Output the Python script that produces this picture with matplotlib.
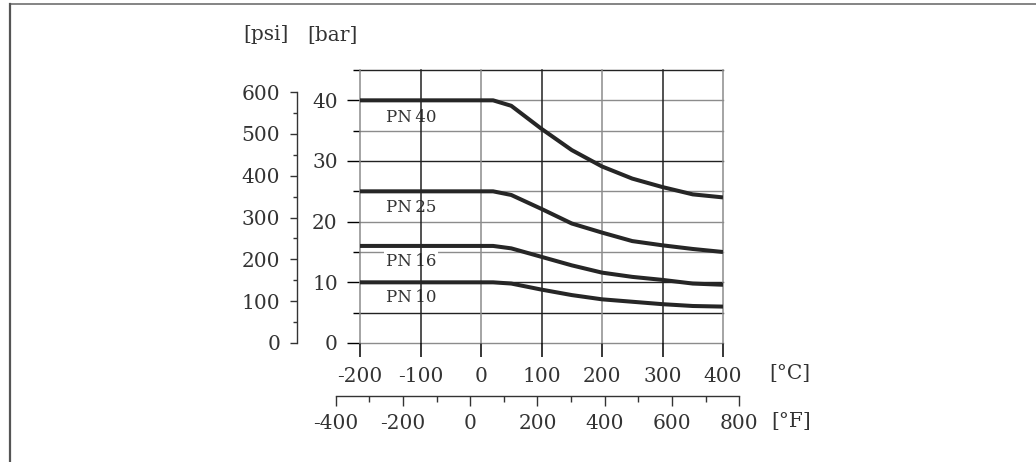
import matplotlib
matplotlib.use("Agg")
import matplotlib.pyplot as plt
from matplotlib.lines import Line2D
from matplotlib.ticker import FixedLocator

# pressure/temperature ratings
temp_c = [-200, 20, 50, 100, 150, 200, 250, 300, 350, 400]
pn40 = [40, 40, 39.1, 35.3, 31.8, 29.1, 27.1, 25.7, 24.5, 24.0]
pn25 = [25, 25, 24.4, 22.1, 19.7, 18.2, 16.8, 16.1, 15.5, 15.0]
pn16 = [16, 16, 15.6, 14.2, 12.8, 11.6, 10.9, 10.4, 9.8, 9.6]
pn10 = [10, 10, 9.8, 8.8, 7.9, 7.2, 6.8, 6.4, 6.1, 6.0]
curves = [pn40, pn25, pn16, pn10]
labels = ["PN\u200940", "PN\u200925", "PN\u200916", "PN\u200910"]
label_y = [37.25, 22.3, 13.4, 7.5]   # bar, label centres
label_x = -116

c_ticks = [-200, -100, 0, 100, 200, 300, 400]
bar_major = [0, 10, 20, 30, 40]
bar_grid = [0, 5, 10, 15, 20, 25, 30, 35, 40, 45]
psi_major = [0, 100, 200, 300, 400, 500, 600]
psi_minor = [50, 150, 250, 350, 450, 550]
f_major = [-400, -200, 0, 200, 400, 600, 800]
f_minor = [-300, -100, 100, 300, 500, 700]

PSI_PER_BAR = 14.5038
DARK = "#222222"
GRAY = "#8c8c8c"
TXT = "#333333"
FONT = "DejaVu Serif"
FS = 14.5

plt.rcParams["font.family"] = FONT
plt.rcParams["axes.unicode_minus"] = False

W, H = 1036, 462
fig = plt.figure(figsize=(W / 100, H / 100), dpi=100)

# main axes (bar / degC), pixel box 360..723 x 70..343
x0, x1, y0, y1 = 360, 723, 70, 343
ax = fig.add_axes([x0 / W, (H - y1) / H, (x1 - x0) / W, (y1 - y0) / H])
ax.set_xlim(-200, 400)
ax.set_ylim(0, 45)
for s in ax.spines.values():
    s.set_visible(False)

hcol = {45: DARK, 40: GRAY, 35: GRAY, 30: DARK, 25: GRAY, 20: GRAY,
        15: GRAY, 10: DARK, 5: DARK, 0: GRAY}
vcol = {-200: GRAY, -100: DARK, 0: GRAY, 100: DARK, 200: GRAY, 300: DARK, 400: GRAY}

for v in bar_grid:
    ax.axhline(v, color=hcol[v], lw=1.0, zorder=1, clip_on=False)
for v in c_ticks:
    ax.axvline(v, color=vcol[v], lw=1.1, zorder=3, clip_on=False)

for lab, ly in zip(labels, label_y):
    ax.text(label_x, ly, lab, ha="center", va="center", fontsize=12, color=TXT,
            zorder=2, bbox=dict(boxstyle="square,pad=0.12", fc="white", ec="none"))

for p in curves:
    ax.plot(temp_c, p, color="#262626", lw=2.9, zorder=4, solid_capstyle="butt")

ax.yaxis.set_major_locator(FixedLocator(bar_major))
ax.yaxis.set_minor_locator(FixedLocator([v for v in bar_grid if v not in bar_major]))
ax.tick_params(axis="y", which="major", length=9.5, width=1.0, pad=6.5,
               labelsize=FS, labelcolor=TXT)
ax.tick_params(axis="y", which="minor", length=5, width=1.0)
for t in ax.yaxis.get_major_ticks():
    t.tick1line.set_color(hcol[int(t.get_loc())])
for t in ax.yaxis.get_minor_ticks():
    t.tick1line.set_color(hcol[int(t.get_loc())])

ax.xaxis.set_major_locator(FixedLocator(c_ticks))
ax.tick_params(axis="x", which="major", length=10, width=1.1, pad=7,
               labelsize=FS, labelcolor=TXT)
for t in ax.xaxis.get_major_ticks():
    t.tick1line.set_color(vcol[int(t.get_loc())])
ax.set_xticklabels([str(v) for v in c_ticks])

# psi axis on the left
psi_x = 297
axp = fig.add_axes([psi_x / W, (H - y1) / H, 0.001, (y1 - y0) / H])
axp.set_ylim(0, 45 * PSI_PER_BAR)
axp.patch.set_visible(False)
for k in ["top", "right", "bottom"]:
    axp.spines[k].set_visible(False)
axp.spines["left"].set_bounds(0, 600)
axp.spines["left"].set_color(TXT)
axp.spines["left"].set_linewidth(1.0)
axp.set_xticks([])
axp.yaxis.set_major_locator(FixedLocator(psi_major))
axp.yaxis.set_minor_locator(FixedLocator(psi_minor))
axp.tick_params(axis="y", which="major", length=5, width=1.0, color=TXT,
                pad=7, labelsize=FS, labelcolor=TXT)
axp.tick_params(axis="y", which="minor", length=3, width=1.0, color=TXT)

# degF axis below
def f_to_c(f):
    return (f - 32) * 5 / 9

px_per_c = (x1 - x0) / 600
fx0 = x0 + (f_to_c(-400) + 200) * px_per_c
fx1 = x0 + (f_to_c(800) + 200) * px_per_c
fy = 396
axf = fig.add_axes([fx0 / W, (H - fy) / H, (fx1 - fx0) / W, 0.001])
axf.set_xlim(-400, 800)
axf.patch.set_visible(False)
for k in ["top", "right", "left"]:
    axf.spines[k].set_visible(False)
axf.spines["bottom"].set_color(TXT)
axf.spines["bottom"].set_linewidth(1.0)
axf.set_yticks([])
axf.xaxis.set_major_locator(FixedLocator(f_major))
axf.xaxis.set_minor_locator(FixedLocator(f_minor))
axf.tick_params(axis="x", which="major", length=7, width=1.0, color=TXT,
                pad=6, labelsize=FS, labelcolor=TXT)
axf.tick_params(axis="x", which="minor", length=4.3, width=1.0, color=TXT)
axf.set_xticklabels([str(v) for v in f_major])

# unit labels
def ftext(px, py, s):
    fig.text(px / W, 1 - py / H, s, ha="center", va="center",
             fontsize=FS, color=TXT)

ftext(266, 35, "[psi]")
ftext(332, 35, "[bar]")
ftext(790, 373, "[°C]")
ftext(791, 421, "[°F]")

# frame lines of the figure
fig.add_artist(Line2D([10 / W, 1], [1 - 3.5 / H, 1 - 3.5 / H],
                      transform=fig.transFigure, color="#707070", lw=1.2))
fig.add_artist(Line2D([10 / W, 10 / W], [0, 1 - 3.5 / H],
                      transform=fig.transFigure, color="#555555", lw=1.6))

fig.savefig("out.png", dpi=100, facecolor="white")
